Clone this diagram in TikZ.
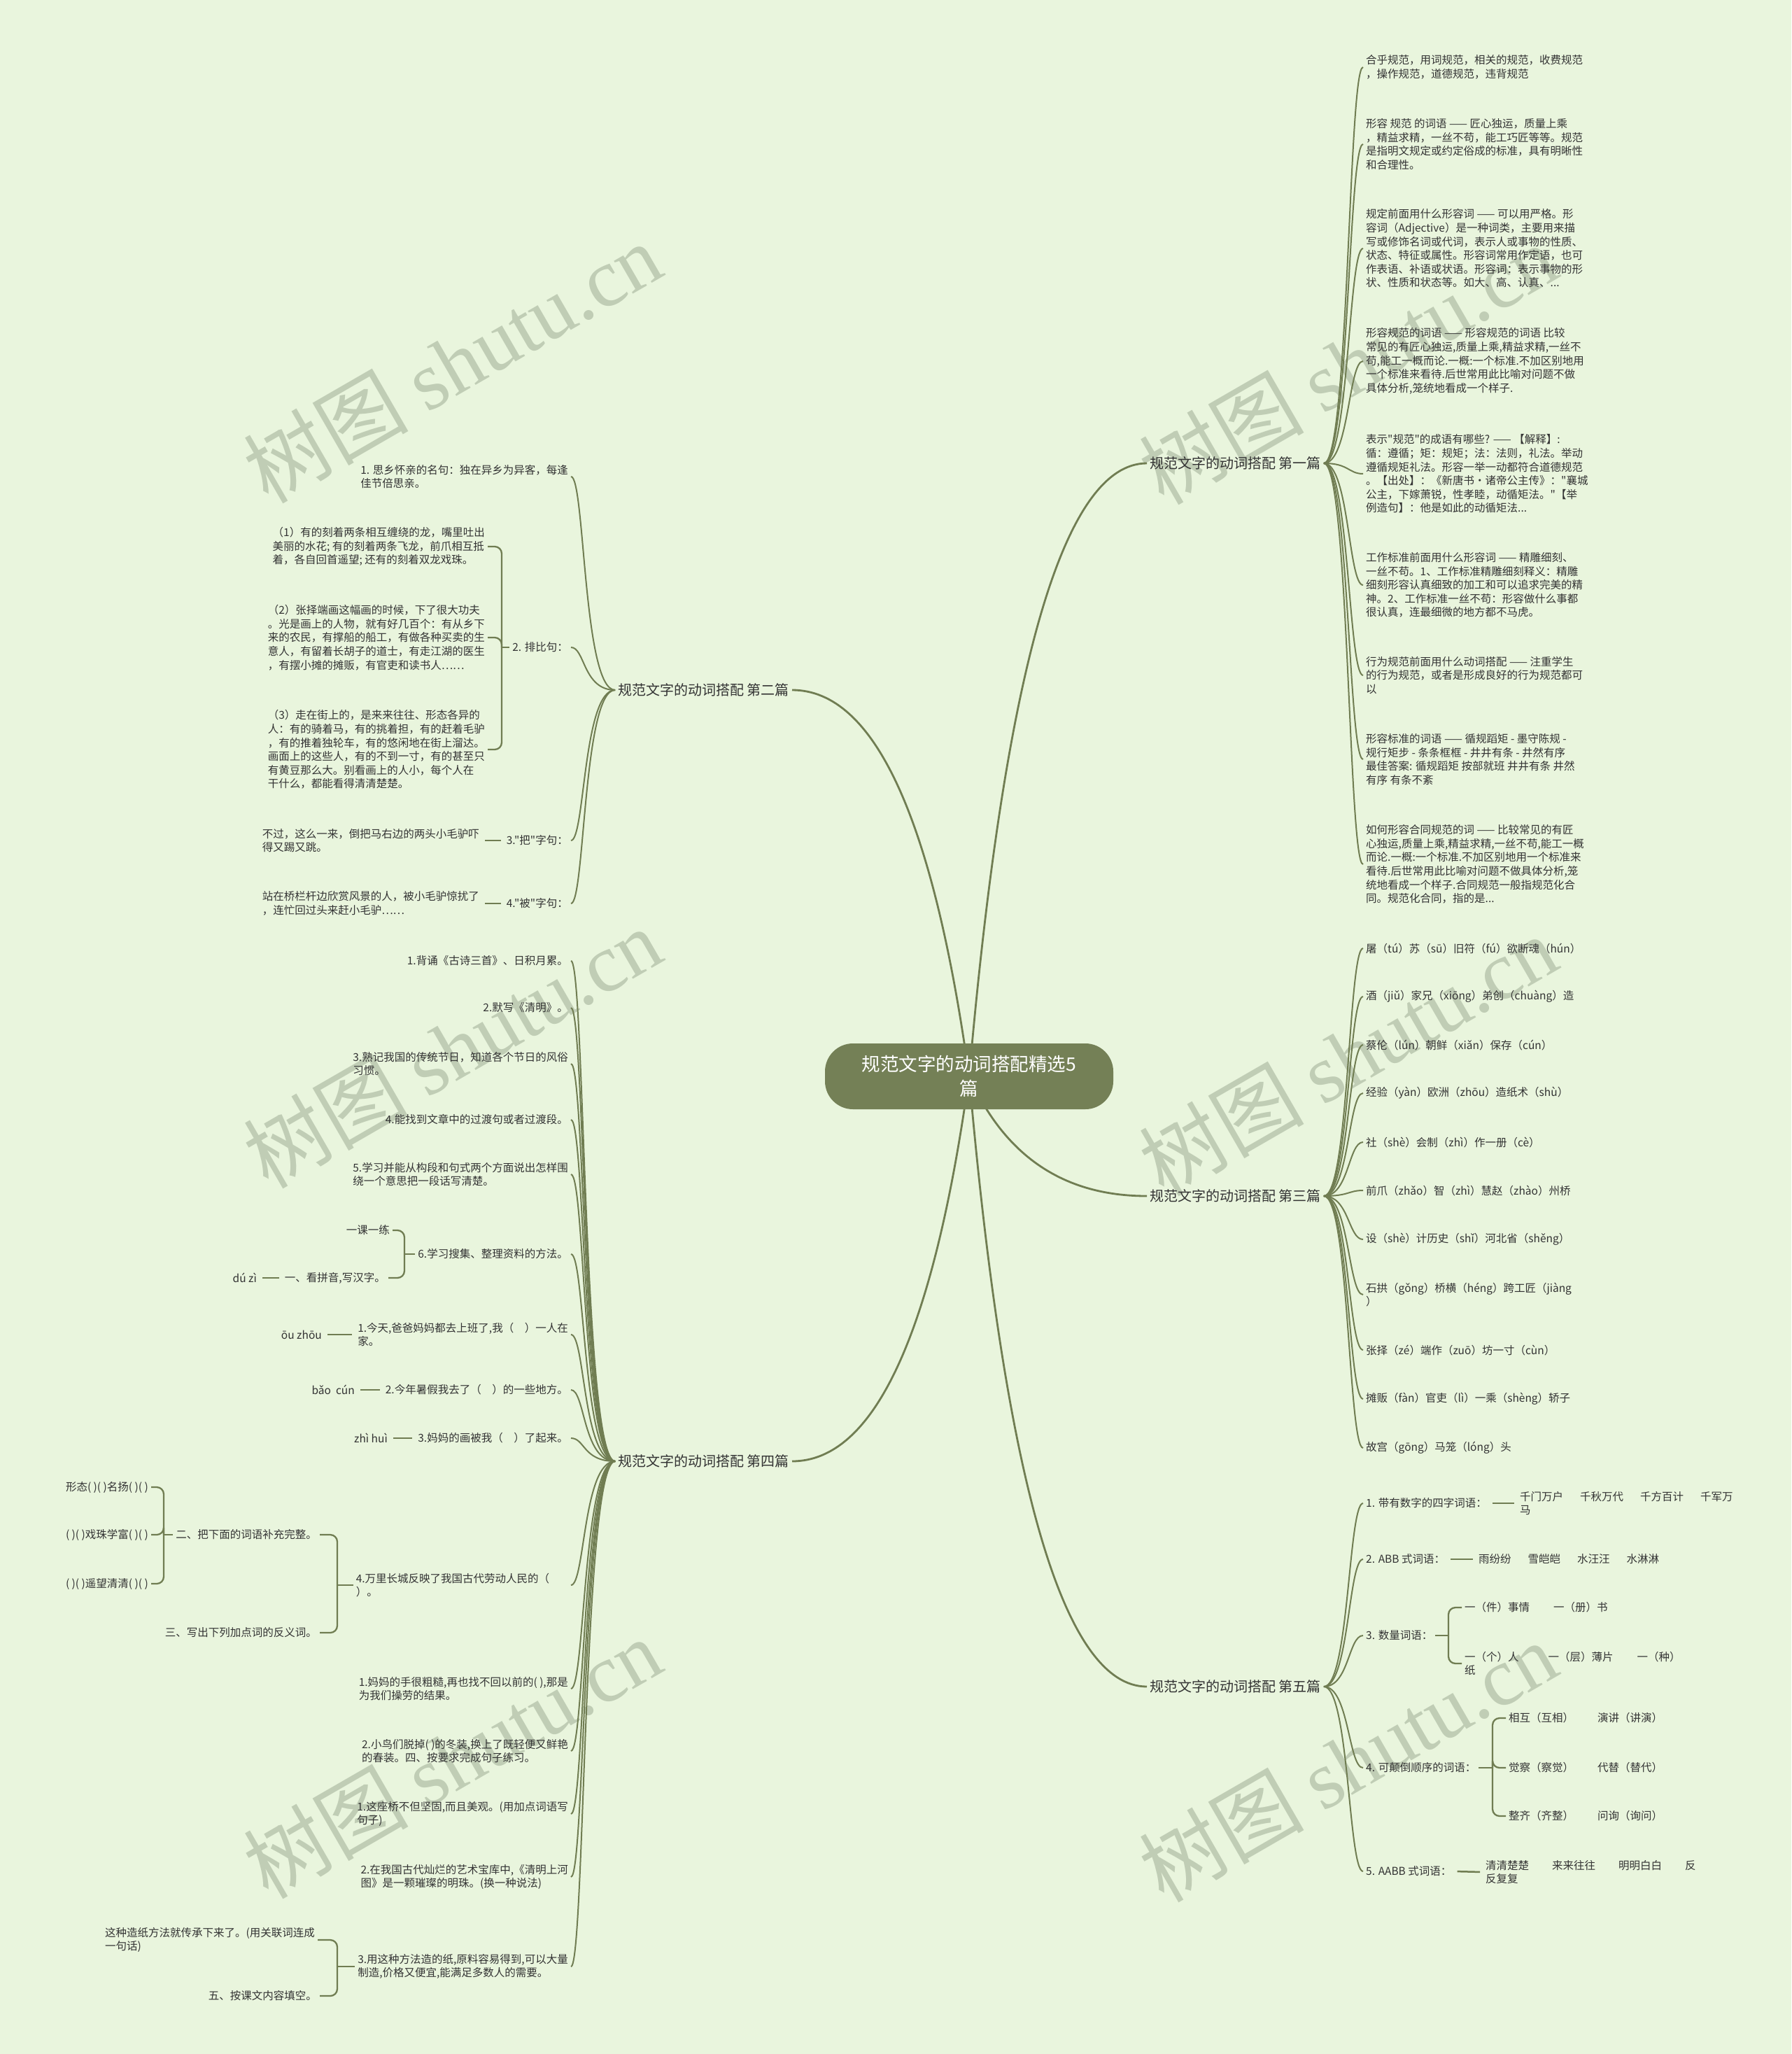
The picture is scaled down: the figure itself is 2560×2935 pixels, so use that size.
\documentclass[tikz,border=0pt]{standalone}
\usepackage{fontspec}
\newfontfamily\cjkfont{Noto Sans CJK SC}
\newfontfamily\wmlatin{Liberation Serif}
\usetikzlibrary{backgrounds}

\definecolor{bgpaper}{RGB}{233,245,221}
\definecolor{lineolive}{RGB}{112,125,82}
\definecolor{rootolive}{RGB}{116,128,86}
\definecolor{inkgrey}{RGB}{51,51,51}
\definecolor{wmgrey}{RGB}{192,205,181}

\newcommand*{\wordgap}[1]{\hspace*{#1pt}}

\begin{document}
\begin{tikzpicture}
[
	x=1pt, y=-1pt,
	rootnode/.style={rounded corners=40pt, fill=rootolive, text=white, minimum width=412pt, minimum height=94pt, align=center, font=\cjkfont\fontsize{26.5}{35}\selectfont},
	branchnode/.style={text=inkgrey, inner sep=4pt, font=\cjkfont\fontsize{20}{24}\selectfont},
	leafnode/.style={text=inkgrey, align=left, inner xsep=4pt, inner ysep=2pt, font=\cjkfont\fontsize{15.5}{19.6}\selectfont},
	rootlink/.style={draw=lineolive, line width=2.8pt},
	leaflink/.style={draw=lineolive, line width=2pt},
	shortlink/.style={draw=lineolive, line width=2.5pt, shorten <=4pt, shorten >=4pt},
	bracelink/.style={draw=lineolive, line width=2.3pt, rounded corners=10pt},
	wmtext/.style={text=wmgrey, rotate=30, inner sep=0pt, font=\cjkfont\fontsize{118}{118}\selectfont}
]

	% page and watermarks
	\begin{pgfonlayer}{background}
	\fill[bgpaper] (0,0) rectangle (2560,2935);
	\foreach \wx/\wy [count=\i] in {646/518, 1926/520, 646/1497, 1926/1508, 646/2512, 1926/2517}
		\node[wmtext] (wm\i) at (\wx,\wy) {树图 {\wmlatin shutu.cn}};
	\end{pgfonlayer}
	\useasboundingbox (0,0) rectangle (2560,2935);

	% root and main branches
	\node[rootnode] (root) at (1385,1538) {规范文字的动词搭配精选5\\篇};
	\node[branchnode, anchor=west] (b1) at (1639,662) {规范文字的动词搭配 第一篇};
	\node[branchnode, anchor=east] (b2) at (1132,986) {规范文字的动词搭配 第二篇};
	\node[branchnode, anchor=west] (b3) at (1639,1709) {规范文字的动词搭配 第三篇};
	\node[branchnode, anchor=east] (b4) at (1132,2088) {规范文字的动词搭配 第四篇};
	\node[branchnode, anchor=west] (b5) at (1639,2410) {规范文字的动词搭配 第五篇};

	% first
	\node[leafnode, anchor=west] (a1) at (1948,96) {合乎规范，用词规范，相关的规范，收费规范\\，操作规范，道德规范，违背规范};
	\node[leafnode, anchor=west] (a2) at (1948,206) {形容 规范 的词语 —— 匠心独运，质量上乘\\，精益求精，一丝不苟，能工巧匠等等。规范\\是指明文规定或约定俗成的标准，具有明晰性\\和合理性。};
	\node[leafnode, anchor=west] (a3) at (1948,355) {规定前面用什么形容词 —— 可以用严格。形\\容词（Adjective）是一种词类，主要用来描\\写或修饰名词或代词，表示人或事物的性质、\\状态、特征或属性。形容词常用作定语，也可\\作表语、补语或状语。形容词：表示事物的形\\状、性质和状态等。如大、高、认真、...};
	\node[leafnode, anchor=west] (a4) at (1948,516) {形容规范的词语 —— 形容规范的词语 比较\\常见的有匠心独运,质量上乘,精益求精,一丝不\\苟,能工一概而论.一概:一个标准.不加区别地用\\一个标准来看待.后世常用此比喻对问题不做\\具体分析,笼统地看成一个样子.};
	\node[leafnode, anchor=west] (a5) at (1948,677) {表示"规范"的成语有哪些? —— 【解释】:\\循：遵循；矩：规矩；法：法则，礼法。举动\\遵循规矩礼法。形容一举一动都符合道德规范\\。【出处】：《新唐书·诸帝公主传》："襄城\\公主，下嫁萧锐，性孝睦，动循矩法。"【举\\例造句】：他是如此的动循矩法...};
	\node[leafnode, anchor=west] (a6) at (1948,836) {工作标准前面用什么形容词 —— 精雕细刻、\\一丝不苟。1、工作标准精雕细刻释义：精雕\\细刻形容认真细致的加工和可以追求完美的精\\神。2、工作标准一丝不苟：形容做什么事都\\很认真，连最细微的地方都不马虎。};
	\node[leafnode, anchor=west] (a7) at (1948,965) {行为规范前面用什么动词搭配 —— 注重学生\\的行为规范，或者是形成良好的行为规范都可\\以};
	\node[leafnode, anchor=west] (a8) at (1948,1085) {形容标准的词语 —— 循规蹈矩 - 墨守陈规 -\\规行矩步 - 条条框框 - 井井有条 - 井然有序\\最佳答案: 循规蹈矩 按部就班 井井有条 井然\\有序 有条不紊};
	\node[leafnode, anchor=west] (a9) at (1948,1235) {如何形容合同规范的词 —— 比较常见的有匠\\心独运,质量上乘,精益求精,一丝不苟,能工一概\\而论.一概:一个标准.不加区别地用一个标准来\\看待.后世常用此比喻对问题不做具体分析,笼\\统地看成一个样子.合同规范一般指规范化合\\同。规范化合同，指的是...};

	% third
	\node[leafnode, anchor=west] (g1) at (1948,1355) {屠（tú）苏（sū）旧符（fú）欲断魂（hún）};
	\node[leafnode, anchor=west] (g2) at (1948,1424) {酒（jiǔ）家兄（xiōng）弟创（chuàng）造};
	\node[leafnode, anchor=west] (g3) at (1948,1493) {蔡伦（lún）朝鲜（xiǎn）保存（cún）};
	\node[leafnode, anchor=west] (g4) at (1948,1562) {经验（yàn）欧洲（zhōu）造纸术（shù）};
	\node[leafnode, anchor=west] (g5) at (1948,1632) {社（shè）会制（zhì）作一册（cè）};
	\node[leafnode, anchor=west] (g6) at (1948,1701) {前爪（zhǎo）智（zhì）慧赵（zhào）州桥};
	\node[leafnode, anchor=west] (g7) at (1948,1771) {设（shè）计历史（shǐ）河北省（shěng）};
	\node[leafnode, anchor=west] (g8) at (1948,1850) {石拱（gǒng）桥横（héng）跨工匠（jiàng\\）};
	\node[leafnode, anchor=west] (g9) at (1948,1929) {张择（zé）端作（zuō）坊一寸（cùn）};
	\node[leafnode, anchor=west] (g10) at (1948,1999) {摊贩（fàn）官吏（lì）一乘（shèng）轿子};
	\node[leafnode, anchor=west] (g11) at (1948,2069) {故宫（gōng）马笼（lóng）头};

	% fifth
	\node[leafnode, anchor=west] (e1) at (1948,2148) {1. 带有数字的四字词语：};
	\node[leafnode, anchor=west] (e2) at (1948,2228) {2. ABB 式词语：};
	\node[leafnode, anchor=west] (e3) at (1948,2337) {3. 数量词语：};
	\node[leafnode, anchor=west] (e4) at (1948,2526) {4. 可颠倒顺序的词语：};
	\node[leafnode, anchor=west] (e5) at (1948,2674) {5. AABB 式词语：};
	\node[leafnode, anchor=west] (f1) at (2168,2148) {千门万户\wordgap{24}千秋万代\wordgap{24}千方百计\wordgap{24}千军万\\马};
	\node[leafnode, anchor=west] (f2) at (2109,2228) {雨纷纷\wordgap{24}雪皑皑\wordgap{24}水汪汪\wordgap{24}水淋淋};
	\node[leafnode, anchor=west] (f3a) at (2089,2297) {一（件）事情\wordgap{34}一（册）书};
	\node[leafnode, anchor=west] (f3b) at (2089,2377) {一（个）人\wordgap{42}一（层）薄片\wordgap{34}一（种）\\纸};
	\node[leafnode, anchor=west] (f4a) at (2152,2455) {相互（互相）\wordgap{34}演讲（讲演）};
	\node[leafnode, anchor=west] (f4b) at (2152,2526) {觉察（察觉）\wordgap{34}代替（替代）};
	\node[leafnode, anchor=west] (f4c) at (2152,2595) {整齐（齐整）\wordgap{34}问询（询问）};
	\node[leafnode, anchor=west] (f5) at (2119,2675) {清清楚楚\wordgap{33}来来往往\wordgap{33}明明白白\wordgap{33}反\\反复复};
	\coordinate (e3j) at (2070,2337);
	\coordinate (e4j) at (2133,2526);

	% second
	\node[leafnode, anchor=east] (c1) at (816,681) {1. 思乡怀亲的名句：独在异乡为异客，每逢\\佳节倍思亲。};
	\node[leafnode, anchor=east] (c2) at (816,925) {2. 排比句：};
	\node[leafnode, anchor=east] (c3) at (816,1201) {3."把"字句：};
	\node[leafnode, anchor=east] (c4) at (816,1291) {4."被"字句：};
	\node[leafnode, anchor=east] (c2a) at (697,781) {（1）有的刻着两条相互缠绕的龙，嘴里吐出\\美丽的水花; 有的刻着两条飞龙，前爪相互抵\\着，各自回首遥望; 还有的刻着双龙戏珠。};
	\node[leafnode, anchor=east] (c2b) at (697,911) {（2）张择端画这幅画的时候，下了很大功夫\\。光是画上的人物，就有好几百个：有从乡下\\来的农民，有撑船的船工，有做各种买卖的生\\意人，有留着长胡子的道士，有走江湖的医生\\，有摆小摊的摊贩，有官吏和读书人……};
	\node[leafnode, anchor=east] (c2c) at (697,1071) {（3）走在街上的，是来来往往、形态各异的\\人：有的骑着马，有的挑着担，有的赶着毛驴\\，有的推着独轮车，有的悠闲地在街上溜达。\\画面上的这些人，有的不到一寸，有的甚至只\\有黄豆那么大。别看画上的人小，每个人在\\干什么，都能看得清清楚楚。};
	\node[leafnode, anchor=east] (c3a) at (689,1201) {不过，这么一来，倒把马右边的两头小毛驴吓\\得又踢又跳。};
	\node[leafnode, anchor=east] (c4a) at (689,1291) {站在桥栏杆边欣赏风景的人，被小毛驴惊扰了\\，连忙回过头来赶小毛驴……};
	\coordinate (c2j) at (717,925);

	% fourth
	\node[leafnode, anchor=east] (d1) at (816,1373) {1.背诵《古诗三首》、日积月累。};
	\node[leafnode, anchor=east] (d2) at (816,1440) {2.默写《清明》。};
	\node[leafnode, anchor=east] (d3) at (816,1520) {3.熟记我国的传统节日，知道各个节日的风俗\\习惯。};
	\node[leafnode, anchor=east] (d4) at (816,1600) {4.能找到文章中的过渡句或者过渡段。};
	\node[leafnode, anchor=east] (d5) at (816,1678) {5.学习并能从构段和句式两个方面说出怎样围\\绕一个意思把一段话写清楚。};
	\node[leafnode, anchor=east] (d6) at (816,1792) {6.学习搜集、整理资料的方法。};
	\node[leafnode, anchor=east] (d7) at (816,1907) {1.今天,爸爸妈妈都去上班了,我（　）一人在\\家。};
	\node[leafnode, anchor=east] (d8) at (816,1986) {2.今年暑假我去了（　）的一些地方。};
	\node[leafnode, anchor=east] (d9) at (816,2055) {3.妈妈的画被我（　）了起来。};
	\node[leafnode, anchor=east, text width=303pt] (d10) at (816,2265) {4.万里长城反映了我国古代劳动人民的（\\）。};
	\node[leafnode, anchor=east] (d11) at (816,2413) {1.妈妈的手很粗糙,再也找不回以前的(~),那是\\为我们操劳的结果。};
	\node[leafnode, anchor=east] (d12) at (816,2502) {2.小鸟们脱掉(~)的冬装,换上了既轻便又鲜艳\\的春装。四、按要求完成句子练习。};
	\node[leafnode, anchor=east] (d13) at (816,2592) {1.这座桥不但坚固,而且美观。(用加点词语写\\句子)};
	\node[leafnode, anchor=east] (d14) at (816,2682) {2.在我国古代灿烂的艺术宝库中,《清明上河\\图》是一颗璀璨的明珠。(换一种说法)};
	\node[leafnode, anchor=east] (d15) at (816,2810) {3.用这种方法造的纸,原料容易得到,可以大量\\制造,价格又便宜,能满足多数人的需要。};

	\node[leafnode, anchor=east] (d6a) at (561,1758) {一课一练};
	\node[leafnode, anchor=east] (d6b) at (555,1826) {一、看拼音,写汉字。};
	\node[leafnode, anchor=east] (d6c) at (371,1826) {dú zì};
	\node[leafnode, anchor=east] (d7a) at (464,1907) {ōu zhōu};
	\node[leafnode, anchor=east] (d8a) at (511,1986) {bǎo\ \ cún};
	\node[leafnode, anchor=east] (d9a) at (558,2055) {zhì huì};
	\node[leafnode, anchor=east] (d10a) at (457,2193) {二、把下面的词语补充完整。};
	\node[leafnode, anchor=east] (d10b) at (457,2333) {三、写出下列加点词的反义词。};
	\node[leafnode, anchor=east] (d10a1) at (216,2125) {形态(~)(~)名扬(~)(~)};
	\node[leafnode, anchor=east] (d10a2) at (216,2193) {(~)(~)戏珠学富(~)(~)};
	\node[leafnode, anchor=east] (d10a3) at (216,2263) {(~)(~)遥望清清(~)(~)};
	\node[leafnode, anchor=east] (d15a) at (454,2772) {这种造纸方法就传承下来了。(用关联词连成\\一句话)};
	\node[leafnode, anchor=east] (d15b) at (457,2852) {五、按课文内容填空。};
	\coordinate (d6j) at (578,1792);
	\coordinate (d10j) at (482,2265);
	\coordinate (d10aj) at (234,2193);
	\coordinate (d15j) at (482,2810);

	% connectors
	\begin{pgfonlayer}{background}
	\draw[rootlink] (root.center) .. controls (1436,954) and (1520,662) .. (b1.west);
	\draw[rootlink] (root.center) .. controls (1334,1170) and (1250,986) .. (b2.east);
	\draw[rootlink] (root.center) .. controls (1436,1652) and (1520,1709) .. (b3.west);
	\draw[rootlink] (root.center) .. controls (1334,1905) and (1250,2088) .. (b4.east);
	\draw[rootlink] (root.center) .. controls (1436,2119) and (1520,2410) .. (b5.west);

	\foreach \i in {1,...,9}
		\draw[leaflink] (b1.east) .. controls +(36,0) and +(-21,0) .. (a\i.west);
	\foreach \i in {1,...,11}
		\draw[leaflink] (b3.east) .. controls +(36,0) and +(-21,0) .. (g\i.west);
	\foreach \i in {1,...,5}
		\draw[leaflink] (b5.east) .. controls +(36,0) and +(-21,0) .. (e\i.west);
	\foreach \i in {1,...,4}
		\draw[leaflink] (b2.west) .. controls +(-46,0) and +(20,0) .. (c\i.east);
	\foreach \i in {1,...,15}
		\draw[leaflink] (b4.west) .. controls +(-46,0) and +(20,0) .. (d\i.east);

	\draw[shortlink] (e1.east) -- (f1.west);
	\draw[shortlink] (e2.east) -- (f2.west);
	\draw[shortlink] (e5.east) -- (f5.west);
	\draw[bracelink] (e3.east) -- (e3j);
	\foreach \n in {f3a,f3b}
		\draw[bracelink] (e3j) |- (\n.west);
	\draw[bracelink] (e4.east) -- (e4j);
	\foreach \n in {f4a,f4b,f4c}
		\draw[bracelink] (e4j) |- (\n.west);

	\draw[bracelink] (c2.west) -- (c2j);
	\foreach \n in {c2a,c2b,c2c}
		\draw[bracelink] (c2j) |- (\n.east);
	\draw[shortlink] (c3a.east) -- (c3.west);
	\draw[shortlink] (c4a.east) -- (c4.west);

	\draw[bracelink] (d6.west) -- (d6j);
	\foreach \n in {d6a,d6b}
		\draw[bracelink] (d6j) |- (\n.east);
	\draw[shortlink] (d6c.east) -- (d6b.west);
	\draw[shortlink] (d7a.east) -- (d7.west);
	\draw[shortlink] (d8a.east) -- (d8.west);
	\draw[shortlink] (d9a.east) -- (d9.west);
	\draw[bracelink] (d10.west) -- (d10j);
	\foreach \n in {d10a,d10b}
		\draw[bracelink] (d10j) |- (\n.east);
	\draw[bracelink] (d10a.west) -- (d10aj);
	\foreach \n in {d10a1,d10a2,d10a3}
		\draw[bracelink] (d10aj) |- (\n.east);
	\draw[bracelink] (d15.west) -- (d15j);
	\foreach \n in {d15a,d15b}
		\draw[bracelink] (d15j) |- (\n.east);
	\end{pgfonlayer}

\end{tikzpicture}
\end{document}
